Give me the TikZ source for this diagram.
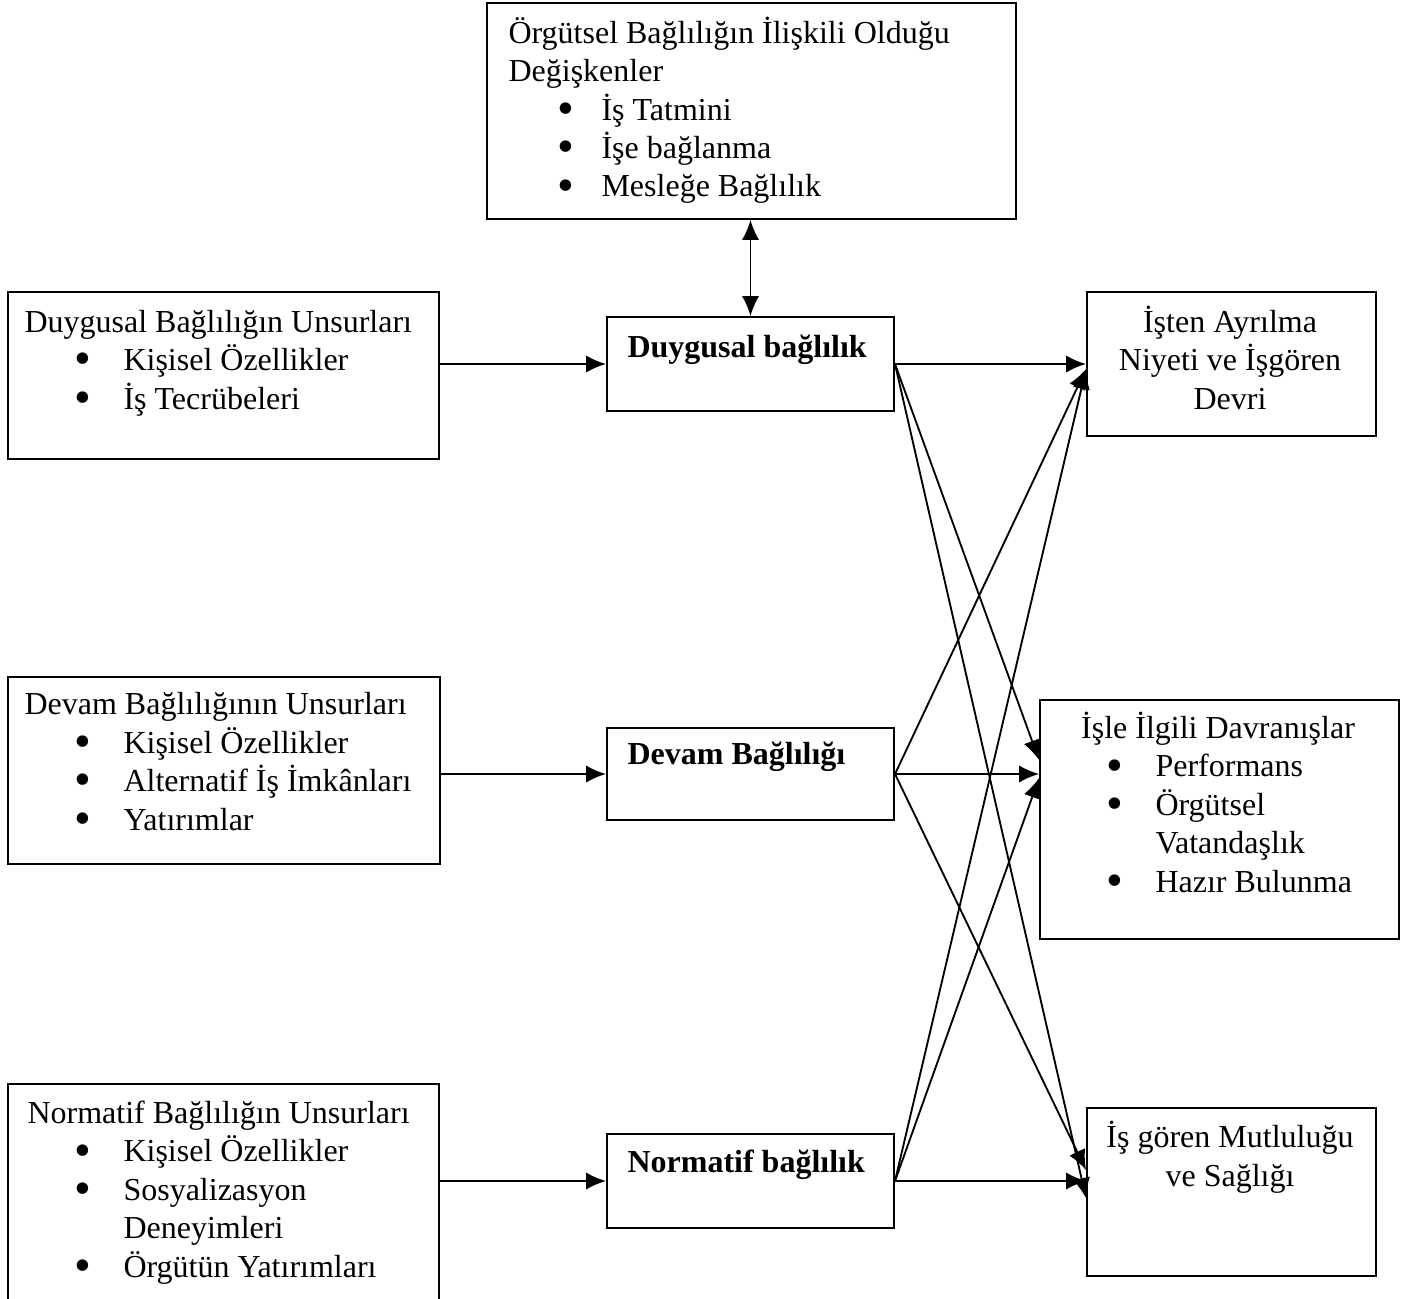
\documentclass[tikz,border=0pt]{standalone}
\usepackage{fontspec}
\setmainfont{Liberation Serif}
\usetikzlibrary{arrows.meta}

\newlength\pxu
\setlength\pxu{0.375pt}
% bullet item: bullet centre at #1, text #2 further on
\newcommand\itm[3]{\hspace*{#1\pxu}\makebox[0pt][c]{\raisebox{-1.6pt}{\fontsize{18pt}{0pt}\selectfont\textbullet}}\hspace*{#2\pxu}#3}
% continued item line, no bullet
\newcommand\itmc[3]{\hspace*{#1\pxu}\hspace*{#2\pxu}#3}

\tikzset{
  box/.style={draw, line width=0.75pt, inner sep=0pt, anchor=north west},
  txt/.style={inner sep=0pt, anchor=base west, align=left, font=\fontsize{12pt}{14.4pt}\selectfont},
  ctxt/.style={txt, anchor=base, align=center},
  arr/.style={-{Latex[length=7.5pt,width=6.5pt]}, line width=0.7pt},
  dbl/.style={{Latex[length=7.5pt,width=6.5pt]}-{Latex[length=7.5pt,width=6.5pt]}, line width=0.7pt}
}

\begin{document}
\begin{tikzpicture}[x=\pxu, y=-\pxu]
    \useasboundingbox (0,0) rectangle (1410,1298);

    % Boxes
    \node[box, minimum width=529\pxu, minimum height=216\pxu] (orgt) at (486,2) {};
    \node[box, minimum width=431\pxu, minimum height=167\pxu] (dugu) at (7,291) {};
    \node[box, minimum width=432\pxu, minimum height=187\pxu] (devu) at (7,676) {};
    \node[box, minimum width=431\pxu, minimum height=240\pxu] (noru) at (7,1083) {};
    \node[box, minimum width=287\pxu, minimum height=94\pxu] (duyg) at (606,316) {};
    \node[box, minimum width=287\pxu, minimum height=92\pxu] (devm) at (606,727) {};
    \node[box, minimum width=287\pxu, minimum height=94\pxu] (norm) at (606,1133) {};
    \node[box, minimum width=289\pxu, minimum height=144\pxu] (ayr) at (1086,291) {};
    \node[box, minimum width=359\pxu, minimum height=239\pxu] (dav) at (1039,699) {};
    \node[box, minimum width=289\pxu, minimum height=168\pxu] (mut) at (1086,1107) {};

    % Texts (placed at the baseline of their last line)
    \node[txt] (orgt-t) at (508,197) {Örgütsel Bağlılığın İlişkili Olduğu\\Değişkenler\\
      \itm{57}{36}{İş Tatmini}\\\itm{57}{36}{İşe bağlanma}\\\itm{57}{36}{Mesleğe Bağlılık}};
    \node[txt] (dugu-t) at (24,409) {Duygusal Bağlılığın Unsurları\\
      \itm{58}{41}{Kişisel Özellikler}\\\itm{58}{41}{İş Tecrübeleri}};
    \node[txt] (devu-t) at (24,830) {Devam Bağlılığının Unsurları\\
      \itm{58}{41}{Kişisel Özellikler}\\\itm{58}{41}{Alternatif İş İmkânları}\\\itm{58}{41}{Yatırımlar}};
    \node[txt] (noru-t) at (27,1277) {Normatif Bağlılığın Unsurları\\
      \itm{55}{41}{Kişisel Özellikler}\\\itm{55}{41}{Sosyalizasyon}\\\itmc{55}{41}{Deneyimleri}\\
      \itm{55}{41}{Örgütün Yatırımları}};
    \node[txt, font=\fontsize{12pt}{14.4pt}\selectfont\bfseries] (duyg-t) at (627,357) {Duygusal bağlılık};
    \node[txt, font=\fontsize{12pt}{14.4pt}\selectfont\bfseries] (devm-t) at (627,764) {Devam Bağlılığı};
    \node[txt, font=\fontsize{12pt}{14.4pt}\selectfont\bfseries] (norm-t) at (627,1172) {Normatif bağlılık};
    \node[ctxt] (ayr-t) at (1230,409) {İşten Ayrılma\\Niyeti ve İşgören\\Devri};
    \node[ctxt] (dav-t) at (1218,738) {İşle İlgili Davranışlar};
    \node[txt] (dav-l) at (1039,892) {\itm{75}{41}{Performans}\\\itm{75}{41}{Örgütsel}\\
      \itmc{75}{41}{Vatandaşlık}\\\itm{75}{41}{Hazır Bulunma}};
    \node[ctxt] (mut-t) at (1230,1186) {İş gören Mutluluğu\\ve Sağlığı};

    % Arrow ends on the right boxes
    \coordinate (ayr-in) at (1086,369);
    \coordinate (dav-a) at (1039,760);
    \coordinate (dav-c) at (1039,778);
    \coordinate (mut-b) at (1086,1170);
    \coordinate (mut-a) at (1086,1198);

    % Connectors
    \draw[arr] (dugu.east |- duyg.west) -- (duyg.west);
    \draw[arr] (devu.east |- devm.west) -- (devm.west);
    \draw[arr] (noru.east |- norm.west) -- (norm.west);
    \draw[dbl] (duyg.north |- orgt.south) -- (duyg.north);
    \draw[arr] (duyg.east) -- (duyg.east -| ayr.west);
    \draw[arr] (duyg.east) -- (dav-a);
    \draw[arr] (duyg.east) -- (mut-a);
    \draw[arr] (devm.east) -- (ayr-in);
    \draw[arr] (devm.east) -- (devm.east -| dav.west);
    \draw[arr] (devm.east) -- (mut-b);
    \draw[arr] (norm.east) -- (ayr-in);
    \draw[arr] (norm.east) -- (dav-c);
    \draw[arr] (norm.east) -- (norm.east -| mut.west);
\end{tikzpicture}
\end{document}
